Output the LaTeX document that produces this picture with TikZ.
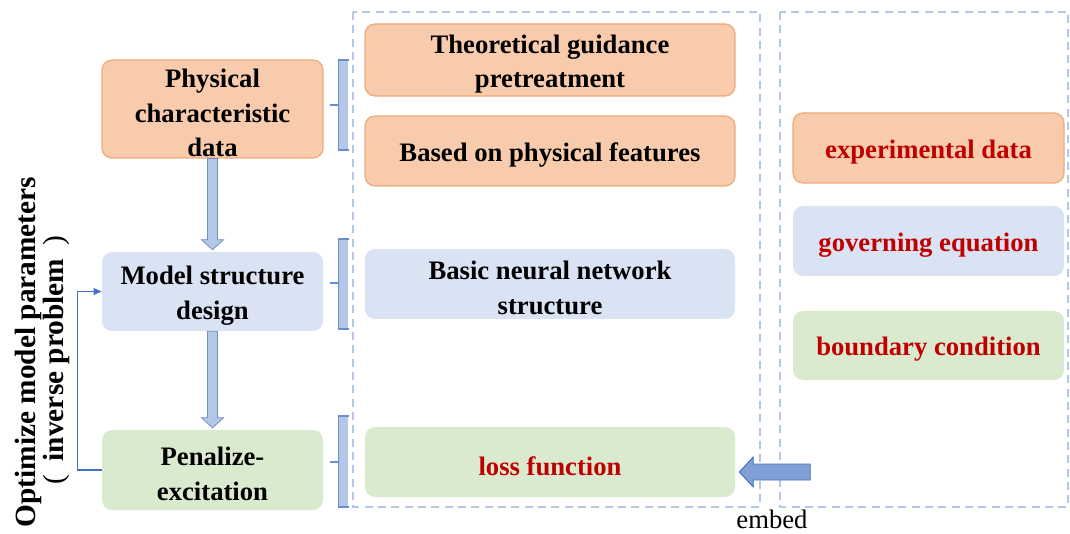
\documentclass[tikz,border=0pt]{standalone}
\usepackage{fontspec}
\setmainfont{Liberation Serif}
\usetikzlibrary{calc,arrows.meta}

\definecolor{orfill}{HTML}{F8CBAD}
\definecolor{ordraw}{HTML}{F0A978}
\definecolor{blfill}{HTML}{DAE3F3}
\definecolor{grfill}{HTML}{D9EACF}
\definecolor{txred}{HTML}{C00000}
\definecolor{dashc}{HTML}{B4C7E7}
\definecolor{arrfill}{HTML}{B4C7E7}
\definecolor{arrdraw}{HTML}{6F8FC8}
\definecolor{bigarr}{HTML}{7F9FD6}
\definecolor{linkc}{HTML}{4472C4}

\tikzset{
  box/.style={rounded corners=7.5pt, inner sep=0pt},
  boxlabel/.style={inner sep=0pt, align=center, yshift=-3pt,
    font=\fontsize{20}{26}\selectfont\bfseries},
  txt/.style={label={[boxlabel]center:#1}},
  rtxt/.style={label={[boxlabel, text=txred]center:#1}},
  orbox/.style={box, fill=orfill, draw=ordraw, line width=0.9pt},
  blbox/.style={box, fill=blfill},
  grbox/.style={box, fill=grfill},
  leftsize/.style={minimum width=165.75pt},
  midsize/.style={minimum width=277.5pt, minimum height=52.5pt},
  rightsize/.style={minimum width=203.25pt, minimum height=52.5pt},
  frame/.style={draw=dashc, line width=0.8pt, dash pattern=on 6pt off 4pt},
  blockarrow/.style={fill=arrfill, draw=arrdraw, line width=0.6pt},
  bracketfill/.style={fill=dashc},
  bracketline/.style={draw=linkc!80, line width=0.8pt},
  caption/.style={rotate=90, anchor=base, font=\fontsize{22}{26}\selectfont\bfseries},
}

\begin{document}
\begin{tikzpicture}[x=0.75pt, y=-0.75pt]
  \useasboundingbox (0,0) rectangle (1070,534);

  % dashed frames
  \draw[frame] (353,12) rectangle (760,507);
  \draw[frame] (780,12) rectangle (1068,507);

  % left column: the modelling steps
  \node[orbox, leftsize, minimum height=73.5pt,
        txt={Physical\\characteristic\\data}] (phys) at (212.5,109) {};
  \node[blbox, leftsize, minimum height=59.25pt,
        txt={Model structure\\design}] (model) at (212.5,291.5) {};
  \node[grbox, leftsize, minimum height=60pt,
        txt={Penalize-\\excitation}] (pen) at (212.5,470) {};

  % middle column
  \node[orbox, midsize, minimum height=54pt,
        txt={Theoretical guidance\\pretreatment}] (theo) at (550,60) {};
  \node[orbox, midsize, txt={Based on physical features}] (based) at (550,151) {};
  \node[blbox, midsize, txt={Basic neural network\\structure}] (basic) at (550,284) {};
  \node[grbox, midsize, rtxt={loss function}] (loss) at (550,462) {};

  % right column
  \node[orbox, rightsize, rtxt={experimental data}] (exp) at (928.5,148) {};
  \node[blbox, rightsize, rtxt={governing equation}] (gov) at (928.5,241) {};
  \node[grbox, rightsize, minimum height=51.75pt,
        rtxt={boundary condition}] (bound) at (928.5,345.5) {};

  % block arrows between the steps
  \foreach \a/\b in {phys/model, model/pen}{
    \path[blockarrow]
      ($(\a.south)+(-5,0)$) -- ($(\a.south)+(5,0)$)
      -- ($(\b.north)+(5,-12)$) -- ($(\b.north)+(11,-12)$)
      -- ($(\b.north)+(0,-2)$)
      -- ($(\b.north)+(-11,-12)$) -- ($(\b.north)+(-5,-12)$) -- cycle;
  }

  % brackets grouping the middle column
  \foreach \t/\bt/\m in {60/150/105, 239/329/283, 416/507/462}{
    \fill[bracketfill] (338,\t) rectangle (348,\bt);
    \draw[bracketline] (349,\t) -- (338.5,\t) -- (338.5,\bt) -- (349,\bt);
    \draw[bracketline] (330,\m) -- (338.5,\m);
  }

  % feedback loop
  \draw[draw=linkc, line width=0.8pt, -{Triangle[length=6pt,width=5pt]}]
    (pen.west) -- ++(-24,0) |- (model.west);

  % embedding arrow into the loss function
  \coordinate (tip) at ($(loss.east)+(4,10)$);
  \path[fill=bigarr, draw=linkc, line width=0.7pt]
    (tip) -- ++(14,-15) -- ++(0,7) -- ++(57,0) -- ++(0,16) -- ++(-57,0)
    -- ++(0,7) -- cycle;
  \node[anchor=base, font=\fontsize{20}{24}\selectfont] (embed) at (772,528) {embed};

  % rotated caption
  \node[caption] (opt) at (36,352) {Optimize model parameters};
  \node[caption] (inv) at (63,360)
    {{\mdseries (}\hspace{0.45em}inverse problem\hspace{0.45em}{\mdseries )}};
\end{tikzpicture}
\end{document}
